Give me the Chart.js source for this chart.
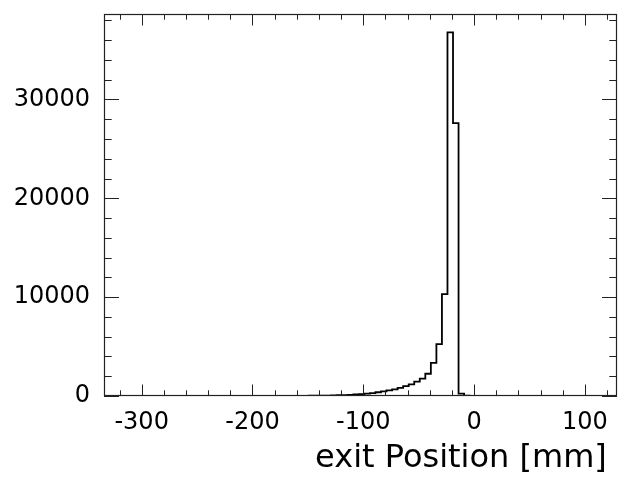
<!DOCTYPE html>
<html>
<head>
<meta charset="utf-8">
<script src="https://cdn.jsdelivr.net/npm/chart.js@4.4.1/dist/chart.umd.min.js"></script>
<style>
  html, body { margin: 0; padding: 0; background: #fff; }
  #wrap { width: 620px; height: 478px; }
</style>
</head>
<body>
<div id="wrap"><canvas id="histChart" width="620" height="478"></canvas></div>
<script>
// Histogram definition (exit position in mm, 5 mm bins)
const firstEdge = -334;
const binWidth = 5;
const counts = [
    0, 0, 0, 0, 0, 0, 0, 0, 0, 0,
    0, 0, 0, 0, 0, 0, 0, 0, 0, 0,
    0, 0, 1, 1, 1, 2, 2, 3, 3, 4,
    5, 6, 7, 9, 12, 15, 19, 24, 30, 38,
    48, 60, 75, 95, 120, 150, 190, 240, 300, 380,
    460, 560, 680, 820, 1000, 1180, 1450, 1750, 2250, 3350,
    5250, 10300, 36800, 27600, 250, 40, 0, 0, 0, 0,
    0, 0, 0, 0, 0, 0, 0, 0, 0, 0,
    0, 0, 0, 0, 0, 0, 0, 0, 0, 0,
    0, 0, 0
];

// Axis settings
const xMin = -334, xMax = 129, xMajor = 100, xMinor = 20;
const yMin = 0, yMax = 38650, yMajor = 10000, yMinor = 2000;
const xTickValues = [-300, -200, -100, 0, 100];
const yTickValues = [0, 10000, 20000, 30000];
const xTitle = 'exit Position [mm] ';

document.addEventListener("DOMContentLoaded", function () {
    const ctx = document.getElementById("histChart").getContext("2d");

    // Step outline: each point sits at a bin's lower edge, last one closes the final bin
    const points = counts.map((c, i) => ({ x: firstEdge + i * binWidth, y: c }));
    points.push({ x: firstEdge + counts.length * binWidth, y: counts[counts.length - 1] });

    // ROOT-like frame with ticks pointing inward on all four sides
    const frameTicks = {
        id: 'frameTicks',
        afterDraw(chart) {
            const a = chart.chartArea;
            const xs = chart.scales.x, ys = chart.scales.y;
            const c = chart.ctx;
            c.save();
            c.strokeStyle = '#222';
            c.lineWidth = 1;
            c.beginPath();
            // x ticks (bottom and top)
            for (let v = Math.ceil(xMin / xMinor) * xMinor; v <= xMax; v += xMinor) {
                const px = Math.round(xs.getPixelForValue(v)) + 0.5;
                const len = (v % xMajor === 0) ? 11.5 : 5.7;
                c.moveTo(px, a.bottom); c.lineTo(px, a.bottom - len);
                c.moveTo(px, a.top); c.lineTo(px, a.top + len);
            }
            // y ticks (left and right)
            for (let v = yMin; v <= yMax; v += yMinor) {
                const py = Math.round(ys.getPixelForValue(v)) + 0.5;
                const len = (v % yMajor === 0) ? 15 : 7.7;
                c.moveTo(a.left, py); c.lineTo(a.left + len, py);
                c.moveTo(a.right, py); c.lineTo(a.right - len, py);
            }
            c.stroke();
            c.lineWidth = 1.2;
            c.strokeRect(a.left + 0.5, a.top + 0.5, a.right - a.left - 1, a.bottom - a.top - 1);
            c.restore();
        }
    };

    new Chart(ctx, {
        type: 'line',
        data: {
            datasets: [{
                data: points,
                stepped: 'before',
                borderColor: '#000',
                borderWidth: 1.8,
                pointRadius: 0,
                fill: false,
                tension: 0
            }]
        },
        options: {
            responsive: false,
            animation: false,
            layout: { padding: { top: 14, right: 3, left: 0, bottom: 0 } },
            plugins: { legend: { display: false }, tooltip: { enabled: false } },
            scales: {
                x: {
                    type: 'linear',
                    min: xMin,
                    max: xMax,
                    grid: { display: false, drawTicks: false },
                    border: { display: false },
                    afterBuildTicks(scale) { scale.ticks = xTickValues.map(v => ({ value: v })); },
                    ticks: {
                        autoSkip: false,
                        maxRotation: 0,
                        padding: 12,
                        color: '#000',
                        callback: v => String(v),
                        font: { family: 'DejaVu Sans', size: 24 }
                    },
                    title: {
                        display: true,
                        text: xTitle,
                        align: 'end',
                        color: '#000',
                        font: { family: 'DejaVu Sans', size: 32 },
                        padding: { top: 2, bottom: 0 }
                    },
                    afterFit(scale) {
                        scale.height = 82;
                        scale.paddingLeft = 0;
                        scale.paddingRight = 0;
                    }
                },
                y: {
                    min: yMin,
                    max: yMax,
                    grid: { display: false, drawTicks: false },
                    border: { display: false },
                    afterBuildTicks(scale) { scale.ticks = yTickValues.map(v => ({ value: v })); },
                    ticks: {
                        autoSkip: false,
                        padding: 14,
                        color: '#000',
                        callback: v => String(v),
                        font: { family: 'DejaVu Sans', size: 24 }
                    },
                    afterFit(scale) {
                        scale.width = 104;
                        scale.paddingTop = 0;
                        scale.paddingBottom = 0;
                    }
                }
            }
        },
        plugins: [frameTicks]
    });
});
</script>
</body>
</html>
